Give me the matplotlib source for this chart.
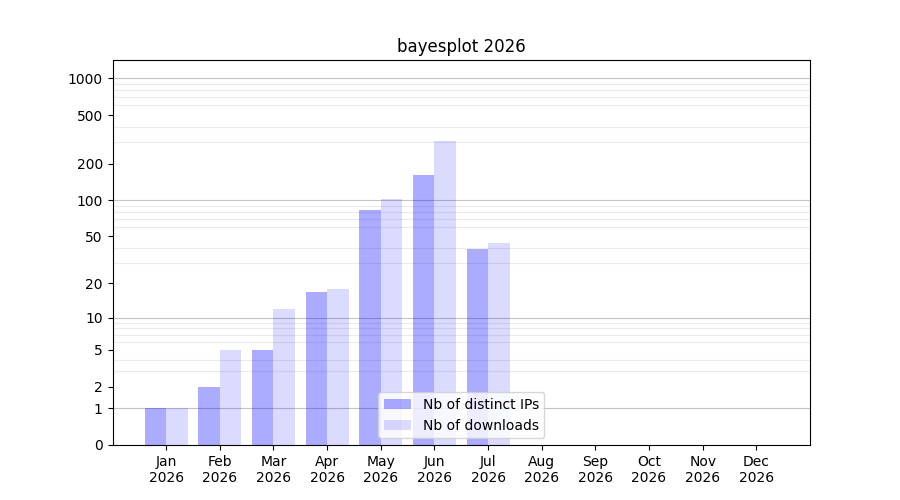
import numpy as np
import matplotlib
matplotlib.use('Agg')
from matplotlib import pyplot as plt
from matplotlib.ticker import FixedLocator

months = ['Jan', 'Feb', 'Mar', 'Apr', 'May', 'Jun', 'Jul', 'Aug', 'Sep', 'Oct', 'Nov', 'Dec']
year = 2026
distinct_ips = [1, 2, 5, 17, 83, 161, 39, 0, 0, 0, 0, 0]
downloads = [1, 5, 12, 18, 102, 306, 44, 0, 0, 0, 0, 0]
y_ticks = [0, 1, 2, 5, 10, 20, 50, 100, 200, 500, 1000]
decades = [1, 10, 100, 1000]


def forward(v):
    return np.log10(1 + np.asarray(v, dtype=float))


def inverse(v):
    return 10 ** np.asarray(v, dtype=float) - 1


fig, ax = plt.subplots(figsize=(9, 5), dpi=100)
x = np.arange(len(months))

ax.bar(x, distinct_ips, width=-0.4, align='edge', color='blue', alpha=0.33,
       label='Nb of distinct IPs', zorder=2)
ax.bar(x, downloads, width=0.4, align='edge', color='blue', alpha=0.14,
       label='Nb of downloads', zorder=2)

ax.set_yscale('function', functions=(forward, inverse))
ax.set_ylim(0, 1414)
ax.set_xlim(-1, 12)

ax.set_yticks(y_ticks)
ax.set_yticklabels([str(t) for t in y_ticks])
minor = [m * d for d in decades for m in range(2, 10)]
ax.yaxis.set_minor_locator(FixedLocator(minor))
ax.tick_params(axis='y', which='minor', length=0)
ax.grid(False)
ax.grid(True, which='minor', axis='y', color='#ebebeb', lw=0.8, zorder=0)
for d in decades:
    ax.axhline(d, color='#c4c4c4', lw=0.8, zorder=1)
ax.set_axisbelow(True)

ax.set_xticks(x)
ax.set_xticklabels(['%s\n%d' % (m, year) for m in months])

ax.set_title('bayesplot %d' % year)
ax.legend(loc='lower center')

plt.savefig('out.png')
